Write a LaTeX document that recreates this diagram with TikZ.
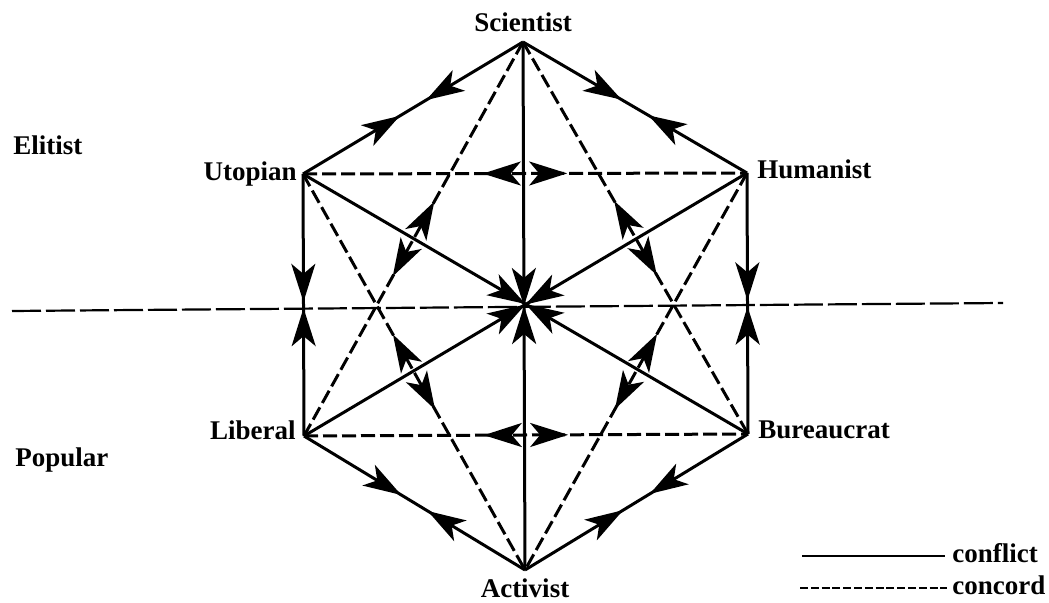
\documentclass[tikz,border=0pt]{standalone}
\usepackage{fontspec}
\setmainfont{Liberation Serif}
\usetikzlibrary{arrows.meta,positioning,decorations.markings}

\begin{document}
\begin{tikzpicture}[
  x=0.5pt, y=-0.5pt,
  lbl/.style={font=\fontsize{13.5}{16}\selectfont\bfseries, inner sep=0pt},
  hd/.tip={Stealth[length=19pt, width=12pt, inset=5pt]},
  conflict/.style={line width=1.5pt, postaction={decorate, decoration={markings,
    mark=at position 0.5-#1 with {\arrow{hd}},
    mark=at position 0.5+#1 with {\arrowreversed{hd}}}}},
  concord/.style={line width=1.5pt, dash pattern=on 7pt off 2.5pt, postaction={decorate, decoration={markings,
    mark=at position 0.5-#1 with {\arrowreversed{hd}},
    mark=at position 0.5+#1 with {\arrow{hd}}}}},
  divider/.style={line width=1.1pt, dash pattern=on 14.5pt off 2.5pt},
  key/.style={line width=1pt}
]
\useasboundingbox (0,0) rectangle (1049,603);

\coordinate (S) at (523,42);
\coordinate (H) at (747,173);
\coordinate (B) at (748,434);
\coordinate (A) at (525,570);
\coordinate (L) at (304,436);
\coordinate (U) at (303,174);

\node[lbl, above=5pt of S] (nS) {Scientist};
\node[lbl, right=5pt of H, yshift=2pt] (nH) {Humanist};
\node[lbl, right=5pt of B, yshift=2pt] (nB) {Bureaucrat};
\node[lbl, below=4pt of A] (nA) {Activist};
\node[lbl, left=3pt of U] (nU) {Utopian};
\node[lbl, left=4pt of L, yshift=3pt] (nL) {Liberal};
\node[lbl, anchor=west] (nE) at (13,145) {Elitist};
\node[lbl, anchor=west] (nP) at (15,460) {Popular};

% elite / popular split
\coordinate (dl) at (12,311);
\coordinate (dr) at (1003,303);
\draw[divider] (dl) -- (dr);

% conflict
\draw[conflict=0.06] (S) -- (U);
\draw[conflict=0.06] (S) -- (H);
\draw[conflict=0.012] (U) -- (L);
\draw[conflict=0.012] (H) -- (B);
\draw[conflict=0.06] (L) -- (A);
\draw[conflict=0.06] (B) -- (A);
\draw[conflict=0] (S) -- (A);
\draw[conflict=0] (U) -- (B);
\draw[conflict=0] (H) -- (L);

% concord
\draw[concord=0.095] (U) -- (H);
\draw[concord=0.095] (L) -- (B);
\draw[concord=0.095] (S) -- (L);
\draw[concord=0.095] (S) -- (B);
\draw[concord=0.095] (U) -- (A);
\draw[concord=0.095] (H) -- (A);

% key
\node[lbl, anchor=west] (kc) at (952,553) {conflict};
\node[lbl, anchor=west] (kd) at (952,585) {concord};
\coordinate (kc0) at (802,556);
\coordinate (kc1) at (945,556);
\coordinate (kd0) at (800,588);
\coordinate (kd1) at (947,588);
\draw[key] (kc0) -- (kc1);
\draw[key, dash pattern=on 4pt off 1.4pt] (kd0) -- (kd1);
\end{tikzpicture}
\end{document}
